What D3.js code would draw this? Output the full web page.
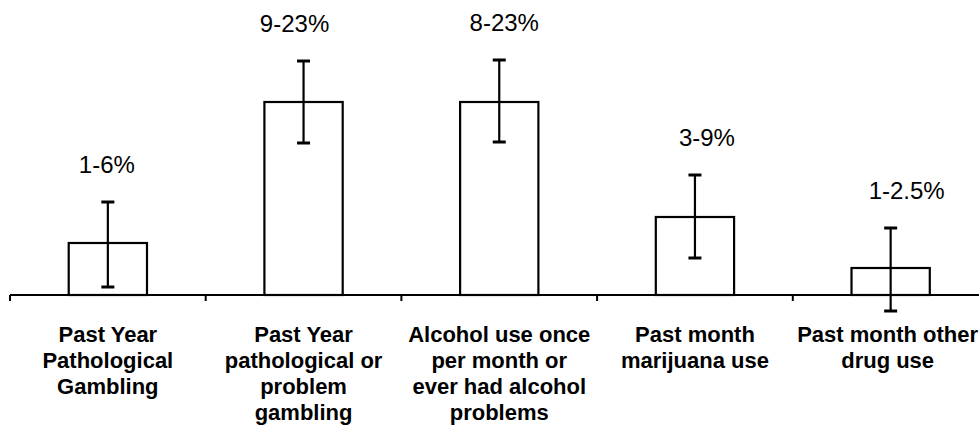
<!DOCTYPE html>
<html>
<head>
<meta charset="utf-8">
<script src="https://cdn.jsdelivr.net/npm/d3@7"></script>
<style>
  html, body { margin: 0; padding: 0; background: #fff; }
  svg { display: block; }
</style>
</head>
<body>
<svg id="chart" width="979" height="430"></svg>
<script>
// ---- data ----
const categories = [
  ["Past Year", "Pathological", "Gambling"],
  ["Past Year", "pathological or", "problem", "gambling"],
  ["Alcohol use once", "per month or", "ever had alcohol", "problems"],
  ["Past month", "marijuana use"],
  ["Past month other", "drug use"]
];
const rangeLabels = ["1-6%", "9-23%", "8-23%", "3-9%", "1-2.5%"];
const values   = [5.2, 19.3, 19.3, 7.8, 2.7];
const errHigh  = [9.3, 23.4, 23.5, 12.0, 6.7];
const errLow   = [0.8, 15.2, 15.3, 3.7, -1.6];

// ---- layout ----
const svg = d3.select("#chart");
const x0 = 10, step = 195.7;
const x = d3.scaleBand().domain(d3.range(categories.length))
  .range([x0, x0 + step * categories.length]).padding(0);
const y = d3.scaleLinear().domain([0, 20]).range([295, 95]);
const barW = x.bandwidth() * 0.4;
const cap = 13;
const labelNudge = [-1, -9, 5, 12, 16];
const catNudge = [0, 0, 0, 0, -3];

// axis
const gAxis = svg.append("g").attr("transform", `translate(0,${y(0)})`);
gAxis.append("line").attr("x1", x0).attr("x2", 979)
  .attr("y1", 0).attr("y2", 0).attr("stroke", "#000").attr("stroke-width", 2);
gAxis.selectAll("line.tick").data(d3.range(categories.length))
  .join("line").attr("class", "tick")
  .attr("x1", d => x(d)).attr("x2", d => x(d))
  .attr("y1", 0).attr("y2", 6).attr("stroke", "#000").attr("stroke-width", 2);

const cx = i => x(i) + x.bandwidth() / 2;

// bars
svg.selectAll("rect.bar").data(values).join("rect")
  .attr("class", "bar")
  .attr("x", (d, i) => cx(i) - barW / 2)
  .attr("y", d => y(d))
  .attr("width", barW)
  .attr("height", d => y(0) - y(d))
  .attr("fill", "#fff").attr("stroke", "#000").attr("stroke-width", 2.2);

// error bars
const eb = svg.selectAll("g.err").data(values.map((v, i) => i)).join("g").attr("class", "err")
  .attr("stroke", "#000").attr("stroke-width", 2.2);
eb.append("line").attr("x1", i => cx(i)).attr("x2", i => cx(i))
  .attr("y1", i => y(errHigh[i])).attr("y2", i => y(errLow[i]));
eb.append("line").attr("x1", i => cx(i) - cap / 2).attr("x2", i => cx(i) + cap / 2)
  .attr("y1", i => y(errHigh[i])).attr("y2", i => y(errHigh[i])).attr("stroke-width", 3);
eb.append("line").attr("x1", i => cx(i) - cap / 2).attr("x2", i => cx(i) + cap / 2)
  .attr("y1", i => y(errLow[i])).attr("y2", i => y(errLow[i])).attr("stroke-width", 3);

// range labels
svg.selectAll("text.range").data(rangeLabels).join("text")
  .attr("class", "range")
  .attr("x", (d, i) => cx(i) + labelNudge[i])
  .attr("y", (d, i) => y(errHigh[i]) - 29)
  .attr("text-anchor", "middle")
  .attr("font-family", "Liberation Sans, Arial, sans-serif")
  .attr("font-size", 24)
  .attr("fill", "#000")
  .text(d => d);

// category labels
const cat = svg.selectAll("text.cat").data(categories).join("text")
  .attr("class", "cat")
  .attr("text-anchor", "middle")
  .attr("font-family", "Liberation Sans, Arial, sans-serif")
  .attr("font-weight", "bold")
  .attr("font-size", 22)
  .attr("fill", "#000");
cat.selectAll("tspan").data((d, i) => d.map(t => ({ t, i }))).join("tspan")
  .attr("x", d => cx(d.i) + catNudge[d.i])
  .attr("y", (d, j) => 342 + j * 26)
  .text(d => d.t);
</script>
</body>
</html>
